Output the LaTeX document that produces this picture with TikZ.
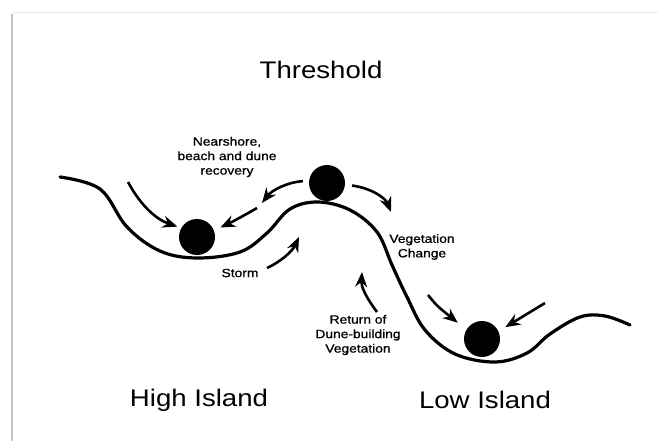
\documentclass[tikz,border=0pt]{standalone}
\usepackage{fontspec}
\setmainfont{Liberation Sans}[FakeStretch=1.15]
\newfontfamily\lblfont{Liberation Sans}[FakeStretch=1.15,FakeBold=0.9]
\usepackage{tikz}
\usetikzlibrary{arrows.meta}
\tikzset{every picture/.append style={font=\lblfont\fontsize{12}{14.5}\selectfont}}
\definecolor{figframe}{HTML}{C4C4C4}
\definecolor{figedge}{HTML}{E8E8E8}
\tikzset{
  ball/.style={circle,fill=black,minimum size=36pt,inner sep=0pt},
  arr/.style={-{Stealth[length=15pt,width=12pt,inset=5pt]},line width=2.6pt},
  lbl/.style={align=center,inner sep=1pt},
  big/.style={font=\rmfamily\fontsize{24}{28}\selectfont}
}

\begin{document}
\begin{tikzpicture}[x=1pt,y=-1pt]
    \useasboundingbox (0,0) rectangle (658,441);
    \draw[figedge,line width=1pt] (12,13) -- (658,13);
    \draw[figframe,line width=2.5pt] (12,14) -- (12,441);
    \draw[line width=3.2pt,line cap=round] plot[smooth,tension=0.6] coordinates {
      (60,177) (100,189) (127,227) (160,251) (197,258) (240,252) (267,233) (290,209)
      (318,202) (350,210) (377,232) (392,265) (407,297) (425,330) (455,354) (495,362)
      (527,353) (550,334) (580,317) (605,316) (630,325)};
    \node[ball] (hib) at (197,237) {};
    \node[ball] (tb) at (327,183) {};
    \node[ball] (rib) at (482,339) {};
    \node[big] (thr) at (321,70) {Threshold};
    \node[big] (high) at (199,400) {High Island};
    \node[big] (low) at (485,400) {Low Island};
    \node[lbl] (near) at (227,157) {Nearshore,\\beach and dune\\recovery};
    \node[lbl] (storm) at (240,273) {Storm};
    \node[lbl] (veg) at (422,247) {Vegetation\\Change};
    \node[lbl] (ret) at (358,335) {Return of\\Dune-building\\Vegetation};
    \coordinate (a1) at (128,182);
    \coordinate (m1) at (262,203);
    \coordinate (m2) at (257,208);
    \coordinate (v1) at (391,212);
    \coordinate (s1) at (267,268);
    \coordinate (s2) at (299,237);
    \coordinate (r1) at (377,312);
    \coordinate (r2) at (362,272);
    \coordinate (c1) at (428,295);
    \coordinate (c2) at (545,303);
    \draw[arr,shorten >=4pt] (a1) .. controls (142,208) and (158,220) .. (hib.150);
    \draw[arr,shorten <=6pt] (tb.173) .. controls (288,182) and (272,190) .. (m1);
    \draw[arr,shorten >=7pt] (m2) .. controls (245,215) and (232,222) .. (hib.21);
    \draw[arr,shorten <=7pt] (tb.-5) .. controls (370,188) and (385,197) .. (v1);
    \draw[arr] (s1) .. controls (280,262) and (292,252) .. (s2);
    \draw[arr] (r1) .. controls (368,300) and (361,288) .. (r2);
    \draw[arr,shorten >=11pt] (c1) .. controls (437,306) .. (rib.149);
    \draw[arr,shorten >=8pt] (c2) -- (rib.25);
\end{tikzpicture}
\end{document}
